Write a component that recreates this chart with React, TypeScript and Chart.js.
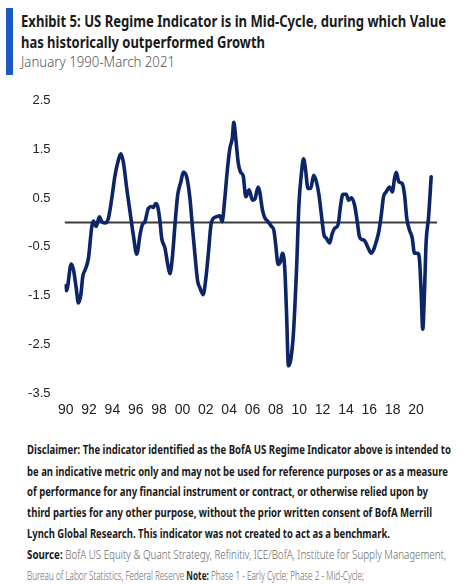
import React, { useEffect, useLayoutEffect, useRef } from "react";
import { Chart, registerables } from "chart.js";

Chart.register(...registerables);

// Decimal years (x) and indicator values (y)
const years = [
  1990.0, 1990.06, 1990.15, 1990.47, 1990.67, 1990.9, 1991.09, 1991.3, 1991.47, 1991.67,
  1991.95, 1992.24, 1992.38, 1992.61, 1992.89, 1993.09, 1993.38, 1993.66, 1993.95, 1994.23,
  1994.51, 1994.72, 1994.94, 1995.23, 1995.51, 1995.79, 1996.09, 1996.37, 1996.56, 1996.79,
  1997.08, 1997.37, 1997.5, 1997.71, 1997.88, 1998.08, 1998.22, 1998.5, 1998.74, 1998.93,
  1999.13, 1999.36, 1999.59, 1999.87, 2000.07, 2000.36, 2000.64, 2000.84, 2001.07, 2001.3,
  2001.5, 2001.78, 2001.98, 2002.21, 2002.44, 2002.63, 2002.92, 2003.21, 2003.4, 2003.63,
  2003.83, 2004.06, 2004.26, 2004.4, 2004.57, 2004.77, 2004.97, 2005.2, 2005.43, 2005.71,
  2006.0, 2006.2, 2006.48, 2006.62, 2006.85, 2007.05, 2007.33, 2007.62, 2007.82, 2007.99,
  2008.19, 2008.39, 2008.56, 2008.76, 2008.91, 2009.08, 2009.47, 2009.76, 2009.98, 2010.19,
  2010.37, 2010.53, 2010.75, 2010.98, 2011.24, 2011.47, 2011.69, 2011.9, 2012.12, 2012.32,
  2012.61, 2012.8, 2013.03, 2013.32, 2013.55, 2013.74, 2014.03, 2014.23, 2014.46, 2014.74,
  2014.97, 2015.17, 2015.4, 2015.6, 2015.88, 2016.17, 2016.37, 2016.6, 2016.82, 2017.03,
  2017.22, 2017.45, 2017.74, 2017.97, 2018.16, 2018.31, 2018.53, 2018.82, 2019.02, 2019.21,
  2019.44, 2019.68, 2019.87, 2020.15, 2020.3, 2020.44, 2020.58, 2020.73, 2020.87, 2021.07,
  2021.3,
];

const values = [
  -1.3, -1.4, -1.34, -0.85, -0.97, -1.34, -1.65, -1.48, -1.1, -0.97,
  -0.73, -0.08, 0.03, -0.08, 0.12, 0.02, -0.01, 0.09, 0.5, 0.97,
  1.28, 1.41, 1.24, 0.7, 0.22, -0.25, -0.65, -0.25, -0.05, 0.02,
  0.29, 0.33, 0.31, 0.39, 0.33, 0.02, -0.32, -0.52, -0.86, -1.05,
  -0.73, -0.05, 0.56, 0.84, 1.03, 0.94, 0.5, -0.05, -0.66, -1.2,
  -1.34, -1.48, -1.2, -0.66, -0.05, 0.08, 0.12, 0.14, 0.02, 0.5,
  1.04, 1.52, 1.72, 2.06, 1.72, 1.24, 1.04, 0.96, 0.53, 0.67,
  0.46, 0.48, 0.73, 0.63, 0.26, 0.1, 0.02, -0.08, -0.15, -0.46,
  -0.86, -0.8, -0.63, -0.93, -1.82, -2.94, -2.39, -1.03, 0.39, 1.01,
  1.31, 1.11, 0.7, 0.7, 0.97, 0.84, 0.57, 0.16, -0.25, -0.32,
  -0.42, -0.25, -0.12, -0.05, 0.36, 0.58, 0.58, 0.46, 0.51, 0.36,
  0.02, -0.3, -0.35, -0.37, -0.51, -0.63, -0.56, -0.39, -0.18, 0.16,
  0.53, 0.63, 0.73, 0.63, 0.9, 1.03, 0.84, 0.8, 0.57, 0.09,
  -0.15, -0.32, -0.63, -0.63, -0.76, -1.41, -2.19, -1.41, -0.39, 0.09,
  0.94,
];

const xTickYears = [1990, 1992, 1994, 1996, 1998, 2000, 2002, 2004, 2006, 2008, 2010, 2012, 2014, 2016, 2018, 2020];
const xTickLabels = ["90", "92", "94", "96", "98", "00", "02", "04", "06", "08", "10", "12", "14", "16", "18", "20"];
const yTicks = [-3.5, -2.5, -1.5, -0.5, 0.5, 1.5, 2.5];
const yTickLabels = ["-3.5", "-2.5", "-1.5", "-0.5", "0.5", "1.5", "2.5"];
const zeroLineX = [1989.9, 2021.8];
const zeroLineY = [0, 0];

const TEXT_FONT = '"Noto Sans", "Open Sans", sans-serif';

function FitLine(props: {
  x: number;
  cy: number;
  width: number;
  size: number;
  weight?: number;
  color: string;
  children: React.ReactNode;
}) {
  const ref = useRef<HTMLDivElement>(null);
  useLayoutEffect(() => {
    const el = ref.current;
    if (!el) return;
    el.style.transform = "none";
    const w = el.getBoundingClientRect().width;
    if (w > 0) el.style.transform = `scaleX(${props.width / w})`;
  });
  const lh = Math.round(props.size * 1.3);
  return (
    <div
      ref={ref}
      style={{
        position: "absolute",
        left: props.x,
        top: props.cy - lh / 2,
        whiteSpace: "nowrap",
        transformOrigin: "0 50%",
        fontFamily: TEXT_FONT,
        fontSize: props.size,
        fontWeight: props.weight ?? 400,
        color: props.color,
        lineHeight: `${lh}px`,
      }}
    >
      {props.children}
    </div>
  );
}

function RegimeChart() {
  const canvasRef = useRef<HTMLCanvasElement>(null);
  useEffect(() => {
    if (!canvasRef.current) return;
    const chart = new Chart(canvasRef.current, {
      type: "line",
      data: {
        datasets: [
          {
            data: years.map((x, i) => ({ x, y: values[i] })),
            borderColor: "#0c2468",
            borderWidth: 3.6,
            pointRadius: 0,
            cubicInterpolationMode: "monotone",
            borderJoinStyle: "round",
            borderCapStyle: "round",
            order: 0,
          },
          {
            data: zeroLineX.map((x, i) => ({ x, y: zeroLineY[i] })),
            borderColor: "#3c3c3c",
            borderWidth: 2,
            pointRadius: 0,
            order: 1,
          },
        ],
      },
      options: {
        animation: false,
        responsive: false,
        layout: { padding: { top: 11, right: 37, left: 0, bottom: 0 } },
        plugins: { legend: { display: false }, tooltip: { enabled: false } },
        scales: {
          x: {
            type: "linear",
            min: 1989.9,
            max: 2021.8,
            grid: { display: false, drawTicks: false },
            border: { display: false },
            afterBuildTicks: (s: any) => {
              s.ticks = xTickYears.map((v) => ({ value: v }));
            },
            afterFit: (s: any) => {
              s.height = 36;
            },
            ticks: {
              autoSkip: false,
              maxRotation: 0,
              padding: 9,
              color: "#222",
              font: { family: '"Liberation Sans", Arial, sans-serif', size: 14 },
              callback: (_v: any, i: number) => xTickLabels[i],
            },
          },
          y: {
            type: "linear",
            min: -3.5,
            max: 2.5,
            grid: { display: false, drawTicks: false },
            border: { display: false },
            afterBuildTicks: (s: any) => {
              s.ticks = yTicks.map((v) => ({ value: v }));
            },
            afterFit: (s: any) => {
              s.width = 64.5;
            },
            ticks: {
              padding: 14,
              color: "#222",
              font: { family: '"Liberation Sans", Arial, sans-serif', size: 13 },
              callback: (_v: any, i: number) => yTickLabels[i],
            },
          },
        },
      } as any,
    });
    return () => chart.destroy();
  }, []);
  return (
    <div style={{ position: "absolute", left: 0, top: 79, width: 474, height: 350 }}>
      <canvas ref={canvasRef} width={474} height={350} style={{ width: 474, height: 350, display: "block" }} />
    </div>
  );
}

export default function App() {
  return (
    <div
      style={{
        position: "fixed",
        left: 0,
        top: 0,
        width: 474,
        height: 584,
        background: "#fff",
        overflow: "hidden",
      }}
    >
      <div style={{ position: "absolute", left: 6, top: 8, width: 6.5, height: 67, background: "#1c59c0" }} />
      <FitLine x={20.7} cy={20.5} width={425} size={15.5} weight={700} color="#1a1a1a">
        Exhibit 5: US Regime Indicator is in Mid-Cycle, during which Value
      </FitLine>
      <FitLine x={20.7} cy={41.5} width={244} size={15.5} weight={700} color="#1a1a1a">
        has historically outperformed Growth
      </FitLine>
      <FitLine x={20.7} cy={61.5} width={154} size={14} weight={300} color="#555">
        January 1990-March 2021
      </FitLine>

      <RegimeChart />

      <FitLine x={26.7} cy={449.3} width={424} size={13} weight={700} color="#1a1a1a">
        Disclaimer: The indicator identified as the BofA US Regime Indicator above is intended to
      </FitLine>
      <FitLine x={26.7} cy={471} width={421} size={13} weight={700} color="#1a1a1a">
        be an indicative metric only and may not be used for reference purposes or as a measure
      </FitLine>
      <FitLine x={26.7} cy={491.5} width={401} size={13} weight={700} color="#1a1a1a">
        of performance for any financial instrument or contract, or otherwise relied upon by
      </FitLine>
      <FitLine x={26.7} cy={512} width={405} size={13} weight={700} color="#1a1a1a">
        third parties for any other purpose, without the prior written consent of BofA Merrill
      </FitLine>
      <FitLine x={26.7} cy={533.3} width={363} size={13} weight={700} color="#1a1a1a">
        Lynch Global Research. This indicator was not created to act as a benchmark.
      </FitLine>
      <FitLine x={26.7} cy={554.3} width={419} size={13} weight={300} color="#666">
        <span style={{ fontWeight: 700, color: "#1a1a1a" }}>Source:</span> BofA US Equity &amp; Quant Strategy,
        Refinitiv, ICE/BofA, Institute for Supply Management,
      </FitLine>
      <FitLine x={26.7} cy={575.7} width={337} size={13} weight={300} color="#666">
        Bureau of Labor Statistics, Federal Reserve <span style={{ fontWeight: 700, color: "#1a1a1a" }}>Note:</span>{" "}
        Phase 1 - Early Cycle; Phase 2 - Mid-Cycle;
      </FitLine>
    </div>
  );
}
